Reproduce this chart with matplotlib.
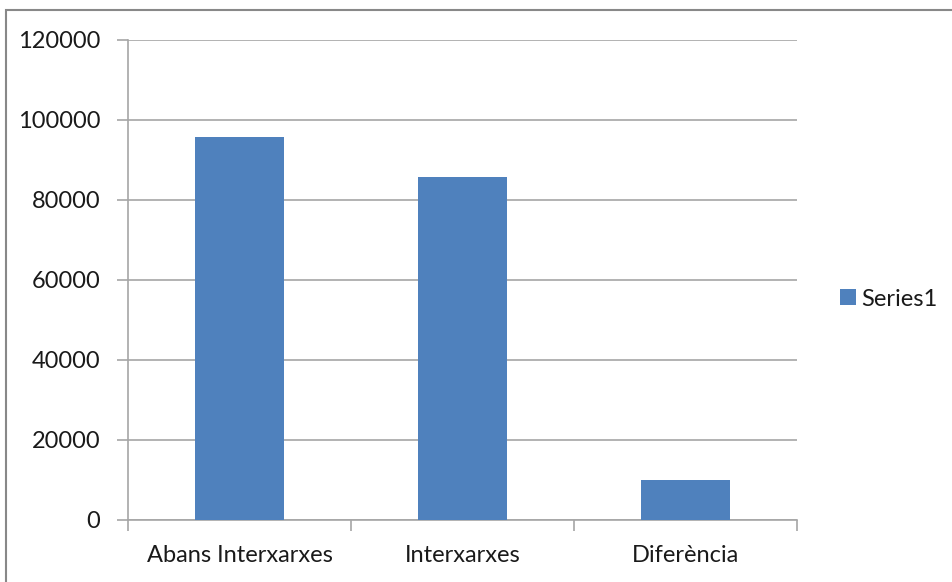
import matplotlib
matplotlib.use("Agg")
import matplotlib.pyplot as plt
from matplotlib.patches import Rectangle

plt.rcParams["font.family"] = ["Lato", "DejaVu Sans"]

BLUE = "#4f81bd"
GRID = "#a6a6a6"
TEXT = "#1a1a1a"

categories = ["Abans Interxarxes", "Interxarxes", "Diferència"]
values = [95700, 85800, 9900]
series_name = "Series1"
yticks = [0, 20000, 40000, 60000, 80000, 100000, 120000]

fig = plt.figure(figsize=(9.53, 5.82), dpi=100)
# marc exterior del gràfic
fig.patches.append(Rectangle((6 / 953, -0.01), 1.0, 1 - 10 / 582 + 0.01,
                             transform=fig.transFigure, fill=False,
                             edgecolor="#888888", linewidth=1.5))
ax = fig.add_axes([128 / 953, 1 - 520 / 582, (797 - 128) / 953, 480 / 582])

x = range(len(categories))
bars = ax.bar(x, values, width=0.4, color=BLUE, zorder=3, label=series_name)
ax.set_xlim(-0.5, len(categories) - 0.5)
ax.set_ylim(0, 120000)
ax.set_yticks(yticks)
ax.set_yticklabels([str(v) for v in yticks], fontsize=17, color=TEXT)
ax.set_xticks(list(x))
ax.set_xticklabels(categories, fontsize=17, color=TEXT)
ax.tick_params(axis="x", length=0, pad=18)
ax.tick_params(axis="y", length=8, width=1.2, color=GRID, pad=12)

# marques de separació entre categories
ax.set_xticks([i - 0.5 for i in range(len(categories) + 1)], minor=True)
ax.tick_params(axis="x", which="minor", length=8, width=1.2, color=GRID,
               direction="out")

ax.grid(axis="y", color=GRID, linewidth=1.2, zorder=0)
for side in ["top", "right"]:
    ax.spines[side].set_visible(False)
for side in ["left", "bottom"]:
    ax.spines[side].set_color(GRID)
    ax.spines[side].set_linewidth(1.2)

fig.legend(handles=[bars], labels=[series_name], loc="center left",
           bbox_to_anchor=(819 / 953, 1 - 299 / 582), frameon=False,
           fontsize=17, handlelength=0.65, handleheight=0.65,
           handletextpad=0.25, labelcolor=TEXT)

fig.savefig("out.png", dpi=100, facecolor="white")
